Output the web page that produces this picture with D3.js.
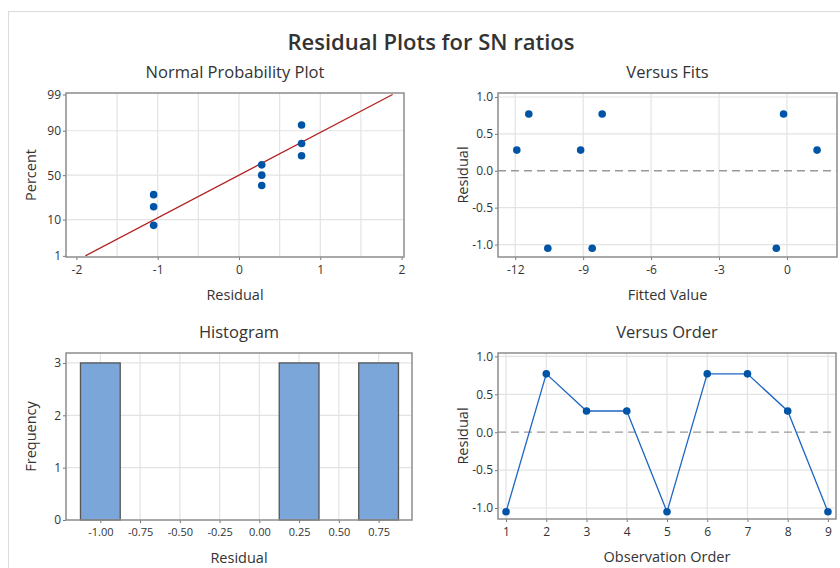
<!DOCTYPE html>
<html>
<head>
<meta charset="utf-8">
<script src="https://cdn.jsdelivr.net/npm/d3@7"></script>
<style>
  body { margin: 0; background: #fff; }
  text { font-family: "Open Sans", "Noto Sans", sans-serif; fill: #333; }
</style>
</head>
<body>
<div id="chart"></div>
<script>
// residuals in observation order
const residuals = [-1.05, 0.77, 0.28, 0.28, -1.05, 0.77, 0.77, 0.28, -1.05];
const fitted = [-0.47, -0.15, 1.33, -11.93, -10.56, -11.4, -8.16, -9.11, -8.6];
const orderIdx = [1, 2, 3, 4, 5, 6, 7, 8, 9];

// normal probability plot
const sortedRes = [-1.05, -1.05, -1.05, 0.28, 0.28, 0.28, 0.77, 0.77, 0.77];
const probPct = [7.4, 18.1, 28.7, 38.3, 50, 61.7, 71.3, 81.9, 92.6];
const fitLine = [[-1.89, 1], [1.89, 99]];
const probTicks = [1, 10, 50, 90, 99];
const resTicks = [-2, -1, 0, 1, 2];
const resGrid = [-1.5, -1, -0.5, 0, 0.5, 1, 1.5];

// histogram
const binStart = [-1.125, 0.125, 0.625];
const binEnd = [-0.875, 0.375, 0.875];
const binCount = [3, 3, 3];
const histTicks = [-1, -0.75, -0.5, -0.25, 0, 0.25, 0.5, 0.75];
const freqTicks = [0, 1, 2, 3];

const fitTicks = [-12, -9, -6, -3, 0];
const residTicks = [-1, -0.5, 0, 0.5, 1];

const W = 840, H = 568;
const DOT = "#0054a6";

// inverse normal cdf (Acklam)
function probit(p) {
  const a = [-39.69683028665376, 220.9460984245205, -275.9285104469687, 138.3577518672690, -30.66479806614716, 2.506628277459239];
  const b = [-54.47609879822406, 161.5858368580409, -155.6989798598866, 66.80131188771972, -13.28068155288572];
  const c = [-0.007784894002430293, -0.3223964580411365, -2.400758277161838, -2.549732539343734, 4.374664141464968, 2.938163982698783];
  const d = [0.007784695709041462, 0.3224671290700398, 2.445134137142996, 3.754408661907416];
  const pl = 0.02425;
  let q, r;
  if (p < pl) {
    q = Math.sqrt(-2 * Math.log(p));
    return (((((c[0]*q+c[1])*q+c[2])*q+c[3])*q+c[4])*q+c[5]) / ((((d[0]*q+d[1])*q+d[2])*q+d[3])*q+1);
  }
  if (p > 1 - pl) {
    q = Math.sqrt(-2 * Math.log(1 - p));
    return -(((((c[0]*q+c[1])*q+c[2])*q+c[3])*q+c[4])*q+c[5]) / ((((d[0]*q+d[1])*q+d[2])*q+d[3])*q+1);
  }
  q = p - 0.5; r = q * q;
  return (((((a[0]*r+a[1])*r+a[2])*r+a[3])*r+a[4])*r+a[5])*q / (((((b[0]*r+b[1])*r+b[2])*r+b[3])*r+b[4])*r+1);
}

const svg = d3.select("#chart").append("svg")
  .attr("width", W).attr("height", H);

// outer window border
svg.append("rect")
  .attr("x", 8.5).attr("y", 11.5)
  .attr("width", W + 10).attr("height", H + 10)
  .attr("fill", "none").attr("stroke", "#dcdcdc");

svg.append("text")
  .attr("x", 431).attr("y", 50)
  .attr("text-anchor", "middle")
  .style("font-size", "22px").style("font-weight", 600)
  .text("Residual Plots for SN ratios");

// builds one panel: grid, ticks, labels; returns group + scales
function panel(o) {
  const x = d3.scaleLinear().domain(o.xDomain).range([o.left, o.right]);
  const y = d3.scaleLinear().domain(o.yDomain).range([o.bottom, o.top]);
  const g = svg.append("g");
  const yPos = o.yMap ? (v => y(o.yMap(v))) : y;

  g.selectAll(".gx").data(o.xGrid).enter().append("line")
    .attr("x1", d => x(d)).attr("x2", d => x(d))
    .attr("y1", o.top).attr("y2", o.bottom)
    .attr("stroke", "#e3e3e3").attr("stroke-width", 1.2);
  g.selectAll(".gy").data(o.yGrid).enter().append("line")
    .attr("x1", o.left).attr("x2", o.right)
    .attr("y1", d => yPos(d)).attr("y2", d => yPos(d))
    .attr("stroke", "#e3e3e3").attr("stroke-width", 1.2);

  const xa = g.append("g").attr("transform", `translate(0,${o.bottom})`)
    .call(d3.axisBottom(x).tickValues(o.xTicks).tickSize(3).tickPadding(5)
      .tickFormat(o.xFormat || d3.format("d")));
  const ya = g.append("g").attr("transform", `translate(${o.left},0)`)
    .call(d3.axisLeft(y)
      .tickValues(o.yMap ? o.yTicks.map(o.yMap) : o.yTicks)
      .tickSize(3).tickPadding(2)
      .tickFormat((d, i) => o.yFormat ? o.yFormat(o.yTicks[i]) : o.yTicks[i]));
  [xa, ya].forEach(a => {
    a.select(".domain").remove();
    a.selectAll("line").attr("stroke", "#777");
    a.selectAll("text").style("font-size", "12px").attr("fill", "#333")
      .text(function () { return this.textContent.replace("−", "-"); });
  });
  if (o.xTickSize) xa.selectAll("text").style("font-size", o.xTickSize);

  g.append("text")
    .attr("x", (o.left + o.right) / 2).attr("y", o.top - 15)
    .attr("text-anchor", "middle").style("font-size", "16.5px")
    .text(o.title);
  g.append("text")
    .attr("x", (o.left + o.right) / 2).attr("y", o.bottom + 43)
    .attr("text-anchor", "middle").style("font-size", "14.5px").attr("fill", "#444")
    .text(o.xLabel);
  g.append("text")
    .attr("transform", `translate(${o.left - 30},${(o.top + o.bottom) / 2}) rotate(-90)`)
    .attr("text-anchor", "middle").style("font-size", "14.5px").attr("fill", "#444")
    .text(o.yLabel);

  return { g, x, y, yPos, frame: () => g.append("rect")
    .attr("x", o.left).attr("y", o.top)
    .attr("width", o.right - o.left).attr("height", o.bottom - o.top)
    .attr("fill", "none").attr("stroke", "#8c8c8c").attr("stroke-width", 1.5) };
}

// ---- Normal Probability Plot
const p1 = panel({
  left: 66, right: 404, top: 93, bottom: 257,
  xDomain: [-2.128, 2.03], yDomain: [-2.36, 2.37],
  yMap: v => probit(v / 100),
  xTicks: resTicks, xGrid: resGrid,
  yTicks: probTicks, yGrid: [10, 50, 90],
  title: "Normal Probability Plot", xLabel: "Residual", yLabel: "Percent"
});
p1.g.append("line")
  .attr("x1", p1.x(fitLine[0][0])).attr("y1", p1.yPos(fitLine[0][1]))
  .attr("x2", p1.x(fitLine[1][0])).attr("y2", p1.yPos(fitLine[1][1]))
  .attr("stroke", "#b22222").attr("stroke-width", 1.3);
p1.g.selectAll(".pt").data(sortedRes).enter().append("circle")
  .attr("cx", d => p1.x(d)).attr("cy", (d, i) => p1.yPos(probPct[i]))
  .attr("r", 3.8).attr("fill", DOT);
p1.frame();

// ---- Versus Fits
const p2 = panel({
  left: 498, right: 837, top: 93, bottom: 257,
  xDomain: [-12.76, 2.21], yDomain: [-1.169, 1.054],
  xTicks: fitTicks, xGrid: fitTicks,
  yTicks: residTicks, yGrid: [-1, -0.5, 0.5, 1],
  yFormat: d3.format(".1f"),
  title: "Versus Fits", xLabel: "Fitted Value", yLabel: "Residual"
});
p2.g.append("line")
  .attr("x1", 498).attr("x2", 837).attr("y1", p2.y(0)).attr("y2", p2.y(0))
  .attr("stroke", "#999").attr("stroke-width", 1.3).attr("stroke-dasharray", "8,5");
p2.g.selectAll(".pt").data(fitted).enter().append("circle")
  .attr("cx", d => p2.x(d)).attr("cy", (d, i) => p2.y(residuals[i]))
  .attr("r", 3.8).attr("fill", DOT);
p2.frame();

// ---- Histogram
const p3 = panel({
  left: 66, right: 412, top: 353, bottom: 520,
  xDomain: [-1.216, 0.96], yDomain: [0, 3.19],
  xTicks: histTicks, xGrid: histTicks,
  xFormat: d3.format(".2f"), xTickSize: "11px",
  yTicks: freqTicks, yGrid: [1, 2, 3],
  title: "Histogram", xLabel: "Residual", yLabel: "Frequency"
});
p3.g.selectAll(".bar").data(binCount).enter().append("rect")
  .attr("x", (d, i) => p3.x(binStart[i]))
  .attr("width", (d, i) => p3.x(binEnd[i]) - p3.x(binStart[i]))
  .attr("y", d => p3.y(d)).attr("height", d => p3.y(0) - p3.y(d))
  .attr("fill", "#7ba6d9").attr("stroke", "#555").attr("stroke-width", 1.3);
p3.frame();

// ---- Versus Order
const p4 = panel({
  left: 498, right: 836, top: 353, bottom: 519,
  xDomain: [0.8, 9.2], yDomain: [-1.145, 1.045],
  xTicks: orderIdx, xGrid: orderIdx,
  yTicks: residTicks, yGrid: [-1, -0.5, 0.5, 1],
  yFormat: d3.format(".1f"),
  title: "Versus Order", xLabel: "Observation Order", yLabel: "Residual"
});
p4.g.append("line")
  .attr("x1", 498).attr("x2", 836).attr("y1", p4.y(0)).attr("y2", p4.y(0))
  .attr("stroke", "#999").attr("stroke-width", 1.3).attr("stroke-dasharray", "8,5");
p4.g.append("path")
  .datum(residuals)
  .attr("d", d3.line().x((d, i) => p4.x(orderIdx[i])).y(d => p4.y(d)))
  .attr("fill", "none").attr("stroke", "#1f66c1").attr("stroke-width", 1.3);
p4.g.selectAll(".pt").data(residuals).enter().append("circle")
  .attr("cx", (d, i) => p4.x(orderIdx[i])).attr("cy", d => p4.y(d))
  .attr("r", 3.8).attr("fill", DOT);
p4.frame();
</script>
</body>
</html>
